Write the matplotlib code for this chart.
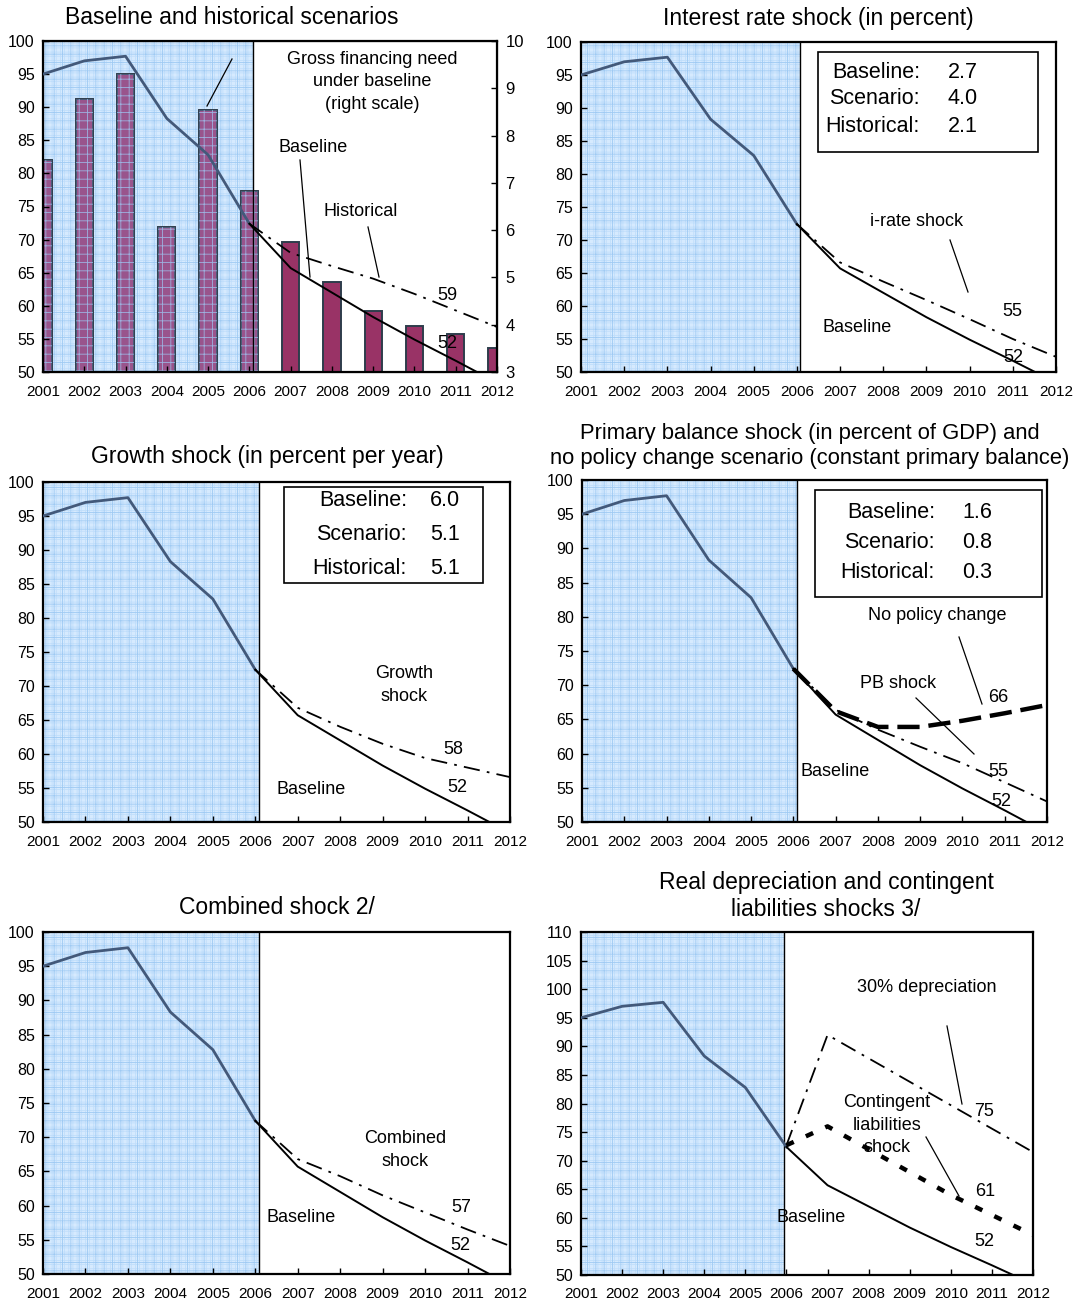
import matplotlib
matplotlib.use("Agg")
import matplotlib.pyplot as plt
from matplotlib.patches import Rectangle
from matplotlib.lines import Line2D
from matplotlib.transforms import Affine2D

plt.rcParams['font.family'] = ['Liberation Sans', 'DejaVu Sans']
plt.rcParams['hatch.linewidth'] = 0.6

# ============================
# Data (percent of GDP unless noted)
# ============================
years = list(range(2001, 2013))
hist_years = years[:6]
proj_years = years[5:]

debt_hist = [95.0, 97.0, 97.7, 88.3, 82.8, 72.4]
baseline = [72.4, 65.7, 62.0, 58.3, 54.9, 51.7, 48.4]
historical = [72.4, 68.0, 66.0, 64.1, 61.8, 59.3, 56.8]
gross_financing = [7.49, 8.78, 9.31, 6.06, 8.54, 6.83, 5.75, 4.90, 4.29, 3.98, 3.81, 3.51]
irate_shock = [72.4, 66.6, 63.7, 60.9, 58.0, 55.0, 52.3]
growth_shock = [72.4, 66.8, 64.0, 61.5, 59.4, 58.0, 56.6]
pb_shock = [72.4, 66.4, 63.5, 61.0, 58.6, 55.8, 53.0]
no_policy = [72.4, 66.2, 63.9, 63.9, 64.8, 65.9, 67.1]
combined_shock = [72.4, 66.8, 64.3, 61.5, 59.0, 56.5, 54.1]
depreciation = [72.7, 92.0, 87.9, 83.8, 79.7, 75.6, 71.5]
contingent = [72.7, 76.0, 72.0, 68.0, 64.0, 60.5, 57.0]

box_labels = ["Baseline:", "Scenario:", "Historical:"]
irate_box = ["2.7", "4.0", "2.1"]
growth_box = ["6.0", "5.1", "5.1"]
pb_box = ["1.6", "0.8", "0.3"]

# ============================
# Style
# ============================
W, H = 1078, 1306
SHADE = '#d6eafe'
GRID_FINE = '#c0defb'
GRID = '#9fcaf3'
HIST_LINE = '#43597a'
BAR = '#993366'
DASHDOT = (0, (9, 4, 1.5, 4))
FS_TITLE = 16.5
FS_NOTE = 13
FS_BOX = 15.5
FS_TICK = 11.5

fig = plt.figure(figsize=(W / 100, H / 100), dpi=100)
# transform in reference-image pixels (origin top-left)
pix = Affine2D().scale(1 / W, -1 / H).translate(0, 1) + fig.transFigure


def add_axes(x0, y0, x1, y1):
    return fig.add_axes([x0 / W, 1 - y1 / H, (x1 - x0) / W, (y1 - y0) / H])


def style_axes(ax, ylim, step=5):
    ax.set_xlim(2001, 2012)
    ax.set_ylim(*ylim)
    ax.set_xticks(years)
    ax.set_yticks(range(ylim[0], ylim[1] + 1, step))
    ax.tick_params(direction='in', length=4, width=1)
    ax.tick_params(axis='x', pad=9, labelsize=FS_TICK - 0.5)
    ax.tick_params(axis='y', pad=6, labelsize=FS_TICK)
    for s in ax.spines.values():
        s.set_linewidth(1.6)


def shade(ax, end):
    ax.axvspan(2001, end, facecolor=SHADE, edgecolor='none', zorder=0)
    ax.axvspan(2001, end, facecolor='none', edgecolor=GRID_FINE, hatch='++++',
               lw=0, zorder=0.4)
    ax.axvspan(2001, end, facecolor='none', edgecolor=GRID, hatch='++',
               lw=0, zorder=0.5)
    ax.axvline(end, color='black', lw=1, zorder=2.5)


def debt_lines(ax):
    ax.plot(hist_years, debt_hist, color=HIST_LINE, lw=2.0, zorder=3)
    ax.plot(proj_years, baseline, color='black', lw=1.4, zorder=3)


def note(x, y, s, fs=FS_NOTE, ls=1.45):
    fig.text(x, y, s, transform=pix, fontsize=fs, ha='center', va='center',
             linespacing=ls)


def leader(x0, y0, x1, y1):
    fig.add_artist(Line2D([x0, x1], [y0, y1], transform=pix, color='black', lw=0.9))


def info_box(x0, y0, x1, y1, values, label_right, value_left, line_ys):
    fig.add_artist(Rectangle((x0, y0), x1 - x0, y1 - y0, transform=pix,
                             facecolor='white', edgecolor='black', lw=1.2))
    for lab, val, y in zip(box_labels, values, line_ys):
        fig.text(label_right, y, lab, transform=pix, fontsize=FS_BOX,
                 ha='right', va='center')
        fig.text(value_left, y, val, transform=pix, fontsize=FS_BOX,
                 ha='left', va='center')


# ============================
# 1. Baseline and historical scenarios
# ============================
ax1 = add_axes(43, 41, 497, 372)
ax1b = ax1.twinx()
ax1.set_zorder(ax1b.get_zorder() + 1)
ax1.patch.set_visible(False)
style_axes(ax1, (50, 100))
ax1b.set_ylim(3, 10)
ax1b.set_yticks(range(3, 11))
ax1b.tick_params(direction='in', length=4, width=1, labelsize=FS_TICK + 0.5, pad=6)
shade(ax1b, 2006.08)
ax1b.bar(years, gross_financing, width=0.42, color=BAR, edgecolor='#2e3d4c',
         lw=1.4, zorder=1)
# blue tint + grid over the bars that fall in the historical period
ax1b.bar(hist_years, gross_financing[:6], width=0.42, facecolor=(0.6, 0.72, 1.0, 0.25),
         edgecolor=(0.62, 0.79, 0.96, 0.8), hatch='++', lw=0, zorder=2)
debt_lines(ax1)
ax1.plot(proj_years, historical, color='black', lw=1.3, ls=DASHDOT, zorder=3)

note(232, 18, "Baseline and historical scenarios", fs=FS_TITLE)
note(372, 82, "Gross financing need\nunder baseline\n(right scale)")
leader(232, 59, 207, 106)
note(313, 148, "Baseline")
leader(300, 160, 310, 277)
note(361, 212, "Historical")
leader(368, 227, 379, 277)
note(447, 295, "59")
note(447, 343, "52")

# ============================
# 2. Interest rate shock
# ============================
ax2 = add_axes(581, 42, 1056, 372)
style_axes(ax2, (50, 100))
shade(ax2, 2006.08)
debt_lines(ax2)
ax2.plot(proj_years, irate_shock, color='black', lw=1.3, ls=DASHDOT, zorder=3)

note(818, 18, "Interest rate shock (in percent)", fs=FS_TITLE)
info_box(818, 52, 1038, 152, irate_box, 920, 948, [73, 99, 126])
note(917, 222, "i-rate shock")
leader(950, 240, 968, 292)
note(857, 327, "Baseline")
note(1012, 311, "55")
note(1013, 357, "52")

# ============================
# 3. Growth shock
# ============================
ax3 = add_axes(43, 482, 510, 822)
style_axes(ax3, (50, 100))
shade(ax3, 2006.08)
debt_lines(ax3)
ax3.plot(proj_years, growth_shock, color='black', lw=1.3, ls=DASHDOT, zorder=3)

note(267, 457, "Growth shock (in percent per year)", fs=FS_TITLE)
info_box(284, 487, 483, 583, growth_box, 407, 430, [501, 535, 569])
note(404, 685, "Growth\nshock")
note(311, 790, "Baseline")
note(453, 750, "58")
note(457, 788, "52")

# ============================
# 4. Primary balance shock
# ============================
ax4 = add_axes(582, 480, 1047, 822)
style_axes(ax4, (50, 100))
shade(ax4, 2006.08)
debt_lines(ax4)
ax4.plot(proj_years, pb_shock, color='black', lw=1.3, ls=(0, (10, 4, 1.5, 4)), zorder=3)
ax4.plot(proj_years, no_policy, color='black', lw=3.2, ls=(0, (5, 2)), zorder=3)

note(810, 446, "Primary balance shock (in percent of GDP) and\n"
     "no policy change scenario (constant primary balance)", fs=15.8, ls=1.25)
info_box(815, 490, 1042, 597, pb_box, 935, 962, [513, 543, 573])
note(937, 615, "No policy change")
leader(959, 637, 982, 704)
note(898, 683, "PB shock")
leader(916, 698, 974, 754)
note(998, 697, "66")
note(835, 772, "Baseline")
note(998, 772, "55")
note(1001, 802, "52")

# ============================
# 5. Combined shock
# ============================
ax5 = add_axes(43, 932, 510, 1274)
style_axes(ax5, (50, 100))
shade(ax5, 2006.08)
debt_lines(ax5)
ax5.plot(proj_years, combined_shock, color='black', lw=1.3, ls=DASHDOT, zorder=3)

note(277, 908, "Combined shock 2/", fs=FS_TITLE)
note(405, 1150, "Combined\nshock")
note(301, 1218, "Baseline")
note(461, 1207, "57")
note(460, 1246, "52")

# ============================
# 6. Real depreciation and contingent liabilities
# ============================
ax6 = add_axes(581, 932, 1033, 1275)
style_axes(ax6, (50, 110))
shade(ax6, 2005.95)
debt_lines(ax6)
ax6.plot(proj_years, depreciation, color='black', lw=1.3, ls=DASHDOT, zorder=3)
ax6.plot(proj_years, contingent, color='black', lw=3.2, ls=(0, (1.8, 3)), zorder=3)

note(826, 896, "Real depreciation and contingent\nliabilities shocks 3/", fs=FS_TITLE,
     ls=1.25)
note(927, 987, "30% depreciation")
leader(947, 1026, 962, 1104)
note(887, 1125, "Contingent\nliabilities\nshock")
leader(926, 1137, 959, 1196)
note(984, 1111, "75")
note(985, 1191, "61")
note(984, 1242, "52")
note(811, 1218, "Baseline")

fig.savefig("out.png", dpi=100)
